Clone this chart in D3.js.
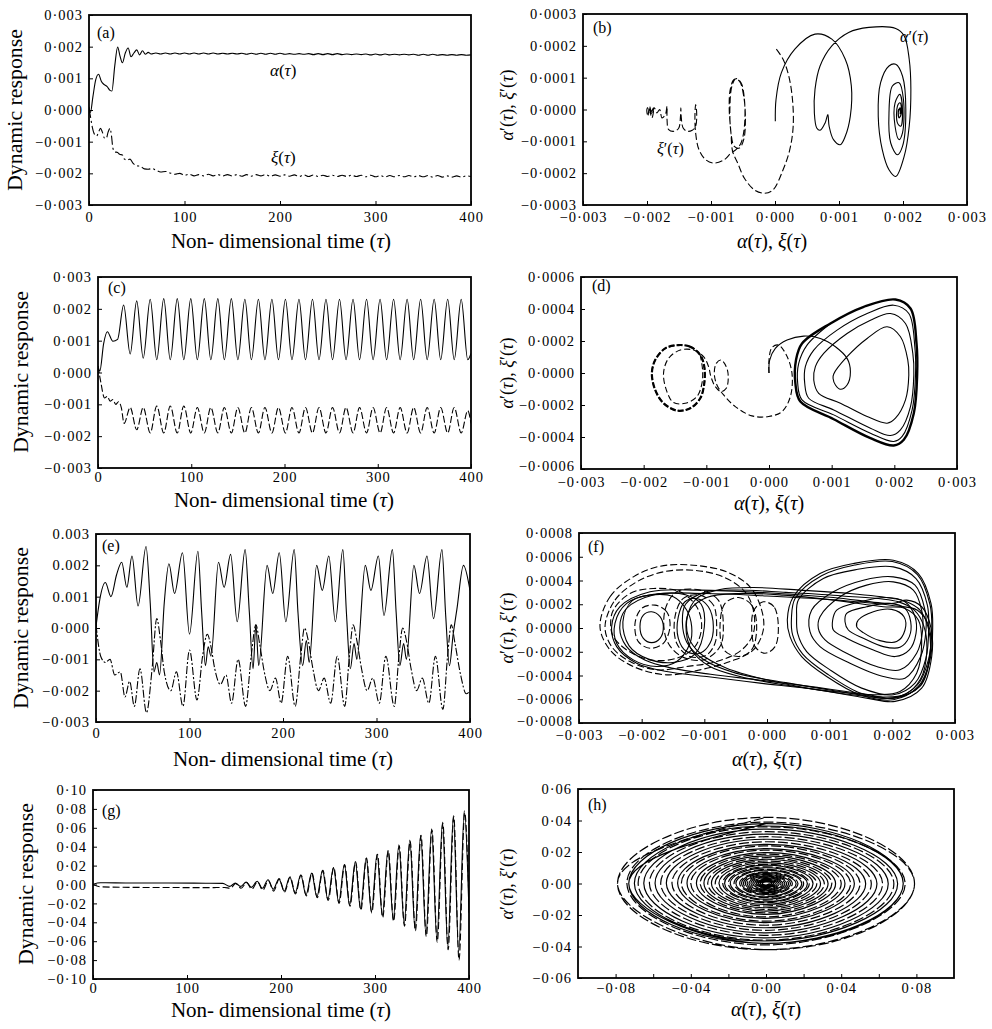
<!DOCTYPE html>
<html><head><meta charset="utf-8">
<script src="https://cdn.jsdelivr.net/npm/d3@7"></script>
<style>
body{margin:0;background:#fff;}
svg{display:block;}
text{font-family:"Liberation Serif","Times New Roman",serif;fill:#000;}
</style></head><body>
<svg id="fig" width="992" height="1029"></svg>
<script>
// ---------------- tick values and labels ----------------
const timeTicks = [0, 100, 200, 300, 400];
const timeTickLabels = ['0', '100', '200', '300', '400'];
const respTicks = [-0.003, -0.002, -0.001, 0, 0.001, 0.002, 0.003];
const respTickLabels = ['−0·003', '−0·002', '−0·001', '0·000', '0·001', '0·002', '0·003'];
const respTickLabelsE = ['−0·003', '−0·002', '−0·001', '0·000', '0.001', '0.002', '0.003'];
const gTicks = [-0.10, -0.08, -0.06, -0.04, -0.02, 0, 0.02, 0.04, 0.06, 0.08, 0.10];
const gTickLabels = ['−0·10', '−0·08', '−0·06', '−0·04', '−0·02', '0·00', '0·02', '0·04', '0·06', '0·08', '0·10'];
const bRateTicks = [-0.0003, -0.0002, -0.0001, 0, 0.0001, 0.0002, 0.0003];
const bRateTickLabels = ['−0·0003', '−0·0002', '−0·0001', '0·0000', '0·0001', '0·0002', '0·0003'];
const dRateTicks = [-0.0006, -0.0004, -0.0002, 0, 0.0002, 0.0004, 0.0006];
const dRateTickLabels = ['−0·0006', '−0·0004', '−0·0002', '0·0000', '0·0002', '0·0004', '0·0006'];
const fRateTicks = [-0.0008, -0.0006, -0.0004, -0.0002, 0, 0.0002, 0.0004, 0.0006, 0.0008];
const fRateTickLabels = ['−0·0008', '−0·0006', '−0·0004', '−0·0002', '0·0000', '0·0002', '0·0004', '0·0006', '0·0008'];
const hDispTicks = [-0.08, -0.06, -0.04, -0.02, 0, 0.02, 0.04, 0.06, 0.08];
const hDispTickLabels = ['−0·08', '', '−0·04', '', '0·00', '', '0·04', '', '0·08'];
const hRateTicks = [-0.06, -0.04, -0.02, 0, 0.02, 0.04, 0.06];
const hRateTickLabels = ['−0·06', '−0·04', '−0·02', '0·00', '0·02', '0·04', '0·06'];

// ---------------- (a) time histories [tau, value] ----------------
const aAlpha = [[0,0.0001],[1.5,-0.00008],[4,0.0004],[7,0.00095],[10,0.00113],[13,0.0009],[16,0.0008],[19,0.00074],[22,0.00062],[24,0.0006],[27,0.0014],[30,0.00199],[32.5,0.0017],[35,0.00149],[38,0.0018],[41,0.00196],[44,0.00168],[47,0.0018],[50,0.0019],[53,0.00174],[56,0.00187],[59,0.00176],[62,0.00182],
[65,0.00177],[70,0.0018],[75,0.00177],[80,0.0018],[85,0.00177],[90,0.0018],[95,0.00177],[100,0.0018],[105,0.00177],[110,0.0018],[115,0.00177],[120,0.0018],[125,0.00177],[130,0.0018],[135,0.00177],[140,0.00179],[145,0.00177],[150,0.00179],[155,0.00177],[160,0.00179],[165,0.00176],[170,0.00179],[175,0.00176],[180,0.00179],[185,0.00176],[190,0.00179],[195,0.00176],[200,0.00179],[205,0.00176],[210,0.00178],[215,0.00176],[220,0.00178],[225,0.00176],[230,0.00178],[235,0.00175],[240,0.00178],[245,0.00175],[250,0.00178],[255,0.00175],[260,0.00178],[265,0.00175],[270,0.00177],[275,0.00175],[280,0.00177],[285,0.00175],[290,0.00177],[295,0.00174],[300,0.00177],[305,0.00174],[310,0.00177],[315,0.00174],[320,0.00176],[325,0.00174],[330,0.00176],[335,0.00174],[340,0.00176],[345,0.00173],[350,0.00176],[355,0.00173],[360,0.00176],[365,0.00173],[370,0.00175],[375,0.00173],[380,0.00175],[385,0.00173],[390,0.00175],[395,0.00173],[400,0.00174]];
const aXi = [[0,0.00003],[1.5,-0.0002],[3.5,-0.00055],[6,-0.00078],[8,-0.00082],[10,-0.0007],[12,-0.00058],[14,-0.0007],[16,-0.00088],[18,-0.0009],[20,-0.0007],[22,-0.00058],[23.5,-0.0008],[25,-0.0012],[27,-0.00132],[30,-0.00134],[32,-0.0014],[35,-0.00142],[37,-0.00155],[40,-0.00158],[43,-0.00155],[46,-0.00168],[50,-0.00176],[54,-0.00178],[58,-0.00186],[62,-0.00187],[66,-0.00185],[70,-0.0019],[75,-0.00196],[80,-0.00194],[85,-0.00199],[90,-0.00203],[95,-0.002],[100,-0.00206],
[105,-0.00203],[110,-0.00208],[115,-0.00204],[120,-0.00208],[125,-0.00203],[130,-0.00208],[135,-0.00204],[140,-0.00208],[145,-0.00204],[150,-0.00208],[155,-0.00204],[160,-0.00209],[165,-0.00204],[170,-0.00209],[175,-0.00204],[180,-0.00208],[185,-0.00204],[190,-0.00209],[195,-0.00205],[200,-0.00209],[205,-0.00205],[210,-0.00209],[215,-0.00205],[220,-0.0021],[225,-0.00205],[230,-0.0021],[235,-0.00205],[240,-0.0021],[245,-0.00206],[250,-0.0021],[255,-0.00206],[260,-0.0021],[265,-0.00206],[270,-0.0021],[275,-0.00206],[280,-0.0021],[285,-0.00206],[290,-0.00211],[295,-0.00206],[300,-0.00211],[305,-0.00207],[310,-0.00211],[315,-0.00207],[320,-0.00211],[325,-0.00207],[330,-0.00211],[335,-0.00207],[340,-0.00211],[345,-0.00207],[350,-0.00211],[355,-0.00207],[360,-0.00212],[365,-0.00207],[370,-0.00212],[375,-0.00208],[380,-0.00212],[385,-0.00208],[390,-0.00212],[395,-0.00208],[400,-0.0021]];

// ---------------- (b) phase trajectories [x in 1e-3, rate in 1e-4] ----------------
const bAlpha = [[0.005,-0.368],[0.016,0.316],[0.1,1.158],[0.31,1.895],[0.625,2.368],[0.888,2.21],[1.098,1.579],[1.193,0.737],[1.177,-0.21],[1.098,-0.842],[1.019,-1.105],[0.914,-0.947],[0.846,-0.526],[0.825,-0.158],[0.783,-0.421],[0.704,-0.653],[0.652,-0.579],[0.615,-0.105],[0.625,0.632],[0.704,1.368],[0.888,2.0],[1.151,2.421],[1.466,2.579],[1.886,2.547],[2.018,2.316],[2.097,1.579],[2.123,0.632],[2.097,-0.526],[2.018,-1.474],[1.886,-2.105],[1.781,-1.895],[1.676,-1.263],[1.613,-0.21],[1.65,0.842],[1.781,1.368],[1.886,1.421],[1.992,1.053],[2.044,0],[1.992,-1.158],[1.913,-1.421],[1.808,-1.053],[1.781,-0.105],[1.834,0.737],[1.939,0.842],[2.007,0.316],[1.992,-0.737],[1.939,-0.947],[1.876,-0.526],[1.876,0.21],[1.95,0.474],[1.992,0],[1.965,-0.526],[1.913,-0.421],[1.913,0.105],[1.955,0.21],[1.976,-0.105],[1.939,-0.263],[1.929,-0.053],[1.955,0.05],[1.965,-0.2],[1.935,-0.25],[1.93,0.0],[1.95,0.0],[1.955,-0.15]];
const bXi = [[0.021,1.895],[0.126,1.579],[0.215,1.053],[0.273,0.316],[0.284,-0.526],[0.231,-1.263],[0.126,-1.895],[-0.032,-2.526],[-0.163,-2.632],[-0.321,-2.526],[-0.478,-2.158],[-0.583,-1.684],[-0.662,-1.316],[-0.688,-0.737],[-0.715,0],[-0.699,0.632],[-0.636,0.947],[-0.557,0.895],[-0.489,0.421],[-0.462,-0.316],[-0.489,-0.947],[-0.557,-1.211],[-0.636,-1.158],[-0.688,-0.737],[-0.704,0.105],[-0.673,0.737],[-0.61,0.968],[-0.531,0.842],[-0.478,0.316],[-0.478,-0.526],[-0.531,-1.053],[-0.61,-1.263],[-0.688,-1.368],[-0.793,-1.579],[-0.951,-1.684],[-1.083,-1.579],[-1.188,-1.263],[-1.24,-0.737],[-1.251,-0.21],[-1.24,0.158],[-1.224,-0.105],[-1.24,-0.526],[-1.293,-0.653],[-1.372,-0.684],[-1.435,-0.579],[-1.466,-0.21],[-1.471,0.053],[-1.477,-0.21],[-1.503,-0.579],[-1.571,-0.684],[-1.661,-0.632],[-1.687,-0.316],[-1.687,0.105],[-1.713,-0.158],[-1.766,-0.263],[-1.802,0],[-1.844,-0.105],[-1.886,0.053],[-1.923,-0.158],[-1.96,0.105],[-1.986,-0.21],[-2.002,0],[-1.976,0.084],[-1.923,-0.263],[-1.897,0.053],[-1.95,-0.105],[-1.981,-0.053]];

// ---------------- (c) time histories ----------------
const cAlpha = [[0,0.0002],[2,0.00005],[6,0.0009],[10,0.00128],[16,0.00098],[21,0.00104],[27.5,0.00212],[34.5,0.00058],[41.5,0.00225],[48.5,0.00045],[56,0.0023],[63,0.0004],[70.5,0.00232],[77.5,0.0004],[85,0.00232],[92,0.0004],[99.5,0.00232],[106.5,0.0004],[114,0.00232],[121,0.0004],[128.5,0.00232],[135.5,0.0004],[143,0.00232],[150,0.0004],[157.5,0.0023],[164.5,0.0004],[172,0.0023],[179,0.0004],[186.5,0.0023],[193.5,0.0004],[201,0.0023],[208,0.0004],[215.5,0.0023],[222.5,0.0004],[230,0.0023],[237,0.0004],[244.5,0.0023],[251.5,0.0004],[259,0.0023],[266,0.0004],[273.5,0.0023],[280.5,0.0004],[288,0.0023],[295,0.0004],[302.5,0.0023],[309.5,0.0004],[317,0.0023],[324,0.0004],[331.5,0.0023],[338.5,0.0004],[346,0.0023],[353,0.0004],[360.5,0.0023],[367.5,0.0004],[375,0.0023],[382,0.0004],[389.5,0.0023],[396.5,0.0004],[400,0.0006]];
const cXi = [[0,0.0002],[3,-0.0003],[7,-0.0008],[10,-0.00075],[13,-0.0009],[16,-0.00085],[19,-0.001],[22,-0.00092],[25,-0.0011],[28,-0.0016],[34.5,-0.0011],[41.5,-0.0018],[48.5,-0.0011],[56,-0.0019],[63,-0.00105],[70.5,-0.0019],[77.5,-0.00105],[85,-0.0019],[92,-0.00105],[99.5,-0.0019],[106.5,-0.0011],[114,-0.0019],[121,-0.0011],[128.5,-0.0019],[135.5,-0.0011],[143,-0.0019],[150,-0.0011],[157.5,-0.0019],[164.5,-0.0011],[172,-0.0019],[179,-0.0011],[186.5,-0.0019],[193.5,-0.0011],[201,-0.0019],[208,-0.0011],[215.5,-0.0019],[222.5,-0.0011],[230,-0.0019],[237,-0.0011],[244.5,-0.0019],[251.5,-0.0011],[259,-0.0019],[266,-0.0011],[273.5,-0.0019],[280.5,-0.0011],[288,-0.0019],[295,-0.0011],[302.5,-0.0019],[309.5,-0.0011],[317,-0.0019],[324,-0.0011],[331.5,-0.0019],[338.5,-0.0011],[346,-0.0019],[353,-0.0011],[360.5,-0.0019],[367.5,-0.0011],[375,-0.0019],[382,-0.0011],[389.5,-0.0019],[396.5,-0.0012],[400,-0.0016]];

// ---------------- (d) phase trajectories [x in 1e-3, rate in 1e-4] ----------------
const dAlphaStart = [[0,0],[0.011,0.81],[0.101,1.537],[0.288,2.056],[0.554,2.305],[0.82,2.16],[1.06,1.641],[1.246,0.914],[1.299,0.083],[1.246,-0.748],[1.14,-1.018],[1.06,-0.748],[1.022,-0.332],[1.033,-0.062],
[1.246,1.018],[1.566,2.16],[1.885,2.887],[2.098,2.264],[2.215,0.81],[2.231,-0.125],[2.178,-1.682],[2.018,-2.825],[1.885,-3.136],[1.566,-2.721],[1.14,-1.89],[0.793,-1.267],[0.714,-0.436],[0.74,0.395],[0.873,1.225],
[1.246,2.472],[1.619,3.302],[1.938,3.718],[2.178,3.095],[2.295,1.225],[2.311,-0.125],[2.258,-2.098],[2.098,-3.552],[1.938,-3.905],[1.619,-3.448],[1.033,-2.305],[0.634,-1.579],[0.57,-0.644],[0.58,0.395],[0.714,1.433],
[1.086,2.679],[1.566,3.718],[1.991,4.237],[2.231,3.718],[2.327,1.641],[2.338,-0.125],[2.284,-2.305],[2.125,-3.967],[1.991,-4.279],[1.619,-3.759],[1.033,-2.617],[0.527,-1.682],[0.458,-0.644],[0.474,0.602],[0.607,1.745],[0.98,3.095]];
const dAlphaCycle = [[0.98,3.095],[1.512,4.133],[2.018,4.59],[2.258,4.03],[2.354,1.849],[2.364,-0.125],[2.311,-2.513],[2.151,-4.175],[1.991,-4.528],[1.619,-4.071],[1.033,-2.887],[0.5,-1.786],[0.421,-0.644],[0.431,0.81],[0.527,1.849]];
const dXiStart = [[0,0],[0,0.81],[0.048,1.599],[0.154,1.745],[0.277,1.122],[0.367,-0.021],[0.341,-1.475],[0.208,-2.409],[-0.005,-2.721],[-0.272,-2.679],[-0.538,-2.098],[-0.724,-1.371],[-0.831,-0.748],[-0.873,-0.021],[-0.841,0.602],[-0.767,0.81],[-0.682,0.395],[-0.65,-0.228],[-0.682,-0.955],[-0.767,-1.163],[-0.857,-0.852],[-0.927,-0.228],[-0.964,0.395],
[-1.044,1.018],[-1.203,1.433],[-1.416,1.433],[-1.603,0.914],[-1.683,-0.021],[-1.629,-1.163],[-1.523,-1.849],[-1.337,-1.89],[-1.15,-1.475],[-1.07,-0.644],[-1.06,0.187],[-1.097,1.122]];
const dXiCycle = [[-1.097,1.122],[-1.257,1.641],[-1.443,1.745],[-1.656,1.537],[-1.816,0.81],[-1.869,-0.021],[-1.816,-1.059],[-1.683,-1.89],[-1.47,-2.347],[-1.257,-2.202],[-1.097,-1.579],[-1.033,-0.644],[-1.033,0.395]];

// ---------------- (e) time histories ----------------
const eAlpha = [[0,0.00005],[4,0.0009],[10,0.00145],[16,0.001],[22,0.0017],[27.5,0.0021],[33,0.0013],[38.5,0.0023],[45,0.0007],[53.5,0.0026],[58,0.0008],[62,-0.0014],[65,-0.0011],[68,-0.0015],[73,0.0008],[78,0.00205],[84,0.0011],[92.5,0.0024],[100,-0.0002],[109,0.00245],[113,0.0005],[117,-0.0012],[120,-0.0006],[123,-0.0009],[131,0.0021],[137,0.0013],[144,0.00235],[151,0.0002],[159.5,0.0025],[164,0.0005],[168,-0.0013],[171,0.0001],[174,-0.0012],[183,0.002],[189,0.0011],[196,0.0024],[203,0.0002],[212,0.0025],[216,0.0005],[221,-0.0012],[225,-0.0004],[228,-0.0011],[236,0.002],[242,0.0012],[249,0.0023],[256,0.0002],[264,0.0025],[268,0.0004],[272,-0.0013],[276,-0.0005],[279,-0.001],[288,0.002],[294,0.0012],[302,0.0023],[308,0.0004],[317,0.0025],[321,0.0005],[325,-0.0012],[329,-0.0005],[332,-0.001],[340,0.002],[346,0.0011],[354,0.0023],[361,0.0003],[370,0.0025],[374,0.0004],[378,-0.0012],[382,-0.0002],[386,0.0006],[393,0.002],[400,0.0012]];
const eXi = [[0,0.0001],[5,-0.0009],[10,-0.0011],[15,-0.001],[20,-0.0015],[26,-0.0014],[31,-0.0022],[36,-0.0017],[41,-0.0025],[47,-0.0013],[54,-0.0027],[60,-0.0013],[65,0.0003],[69,-0.0004],[73,-0.0014],[80,-0.002],[86,-0.0014],[93,-0.0025],[100,-0.0007],[108,-0.0023],[114,-0.0009],[119,-0.0002],[123,-0.0006],[127,-0.0013],[133,-0.0018],[139,-0.0015],[145,-0.0024],[152,-0.001],[160,-0.0025],[166,-0.0009],[171,0.0001],[175,-0.0005],[180,-0.0014],[186,-0.002],[192,-0.0016],[198,-0.0024],[205,-0.0009],[213,-0.0025],[219,-0.0009],[223,0.0],[227,-0.0004],[232,-0.0013],[238,-0.002],[244,-0.0016],[251,-0.0024],[258,-0.0009],[266,-0.0025],[271,-0.0009],[275,0.0001],[279,-0.0004],[284,-0.0013],[290,-0.002],[296,-0.0016],[303,-0.0024],[310,-0.0009],[319,-0.0025],[324,-0.0009],[328,0.0],[332,-0.0004],[337,-0.0013],[343,-0.002],[349,-0.0016],[356,-0.0024],[363,-0.0009],[371,-0.0026],[376,-0.0009],[380,0.0001],[384,-0.0005],[390,-0.0015],[396,-0.0021],[400,-0.002]];

// ---------------- (f) phase loops [x in 1e-3, rate in 1e-4] ----------------
const fAlphaLoops = [
 [[0.42,2.629],[0.846,4.587],[1.378,5.426],[2.016,5.706],[2.415,4.587],[2.617,2.07],[2.644,0],[2.601,-2.685],[2.415,-4.923],[2.016,-6.042],[1.484,-5.622],[0.952,-4.084],[0.553,-2.405],[0.367,-0.727],[0.324,0.671]],
 [[0.45,2.5],[0.87,4.4],[1.4,5.3],[2.0,5.6],[2.4,4.5],[2.6,2.0],[2.63,0],[2.58,-2.6],[2.4,-4.8],[2.0,-5.9],[1.5,-5.5],[0.97,-3.9],[0.57,-2.2],[0.41,-0.6],[0.39,0.8]],
 [[0.5,2.35],[0.899,4.168],[1.431,4.923],[2.016,5.146],[2.378,4.168],[2.559,1.93],[2.58,0],[2.537,-2.545],[2.362,-4.643],[2.016,-5.622],[1.511,-5.063],[1.005,-3.524],[0.633,-1.986],[0.489,-0.448],[0.473,0.951]],
 [[1.112,1.51],[1.484,2.21],[1.91,2.573],[2.202,2.21],[2.362,0.951],[2.378,-0.448],[2.271,-1.846],[2.043,-2.405],[1.697,-1.846],[1.271,-0.867],[1.059,-0.168],[1.048,0.671]],
 [[1.271,1.231],[1.59,1.79],[1.963,2.07],[2.202,1.65],[2.293,0.531],[2.271,-0.727],[2.122,-1.622],[1.856,-1.566],[1.537,-0.867],[1.298,-0.168],[1.245,0.531]],
 [[1.457,0.671],[1.697,1.371],[1.989,1.566],[2.186,0.951],[2.202,-0.168],[2.069,-1.147],[1.803,-1.063],[1.537,-0.392],[1.431,0.112]],
 [[0.846,0.951],[1.165,2.629],[1.59,3.608],[2.016,3.888],[2.335,3.189],[2.468,1.51],[2.484,-0.168],[2.388,-2.126],[2.122,-3.524],[1.75,-3.245],[1.271,-2.126],[0.926,-1.007],[0.819,-0.028]],
 [[0.713,1.51],[1.059,3.049],[1.537,4.028],[2.016,4.307],[2.362,3.608],[2.521,1.51],[2.537,-0.168],[2.452,-2.405],[2.202,-4.224],[1.856,-4.084],[1.324,-2.965],[0.846,-1.566],[0.686,-0.308]],
 [[2.016,2.489],[1.324,2.909],[0.527,3.189],[-0.218,3.412],[-0.75,3.245],[-1.122,2.489],[-1.271,0.951],[-1.255,-0.727],[-1.069,-2.126],[-0.644,-3.384],[-0.005,-4.363],[0.793,-5.202],[1.59,-5.762],[2.016,-5.902],[2.441,-4.923],[2.601,-2.405],[2.574,0],[2.441,1.51],[2.229,2.21]],
 [[1.856,1.79],[1.059,2.349],[0.261,2.769],[-0.431,2.909],[-0.963,2.573],[-1.229,1.51],[-1.293,0.112],[-1.202,-1.846],[-0.91,-3.245],[-0.431,-4.084],[0.261,-4.783],[1.059,-5.342],[1.75,-5.622],[2.122,-5.342],[2.388,-3.804],[2.468,-1.287],[2.415,0.671],[2.202,1.65]],
 [[2.1,2.2],[1.2,2.7],[0.3,3.0],[-0.5,3.2],[-1.0,3.0],[-1.3,2.0],[-1.35,0.5],[-1.28,-1.2],[-1.0,-2.7],[-0.5,-3.8],[0.3,-4.6],[1.1,-5.3],[1.8,-5.8],[2.2,-5.6],[2.45,-4.3],[2.55,-2.0],[2.5,0.2],[2.35,1.5]],
 [[2.016,2.07],[1.059,2.573],[-0.005,2.965],[-1.069,3.189],[-1.867,3.049],[-2.346,1.79],[-2.479,0.112],[-2.399,-1.566],[-2.08,-2.965],[-1.601,-3.664],[-0.963,-4.084],[-0.112,-4.643],[0.793,-5.202],[1.59,-5.902],[2.043,-6.181],[2.468,-5.063],[2.628,-2.405],[2.617,0],[2.468,1.79],[2.229,2.349]],
 [[2.0,1.9],[1.0,2.4],[0.0,2.7],[-1.0,2.9],[-1.8,2.8],[-2.25,1.6],[-2.35,0.0],[-2.25,-1.5],[-1.95,-2.7],[-1.5,-3.4],[-0.9,-3.9],[-0.1,-4.4],[0.8,-5.0],[1.6,-5.6],[2.05,-5.9],[2.45,-4.8],[2.6,-2.2],[2.58,0.2],[2.4,1.5]],
 [[-0.856,0.112],[-0.936,1.79],[-1.122,2.489],[-1.309,2.21],[-1.415,0.951],[-1.415,-0.867],[-1.282,-1.986],[-1.069,-2.126],[-0.91,-1.287]],
 [[-1.0,0.1],[-1.05,2.0],[-1.3,2.8],[-1.7,2.9],[-2.15,2.3],[-2.3,0.5],[-2.2,-1.5],[-1.9,-2.6],[-1.5,-2.9],[-1.15,-2.2]],
 [[-1.654,0.112],[-1.707,0.951],[-1.84,1.371],[-1.973,1.091],[-2.027,0.112],[-1.973,-0.867],[-1.84,-1.231],[-1.707,-0.867]],
 [[-1.282,1.51],[-1.495,2.629],[-1.867,2.769],[-2.239,2.07],[-2.426,0.392],[-2.399,-1.287],[-2.133,-2.685],[-1.761,-3.245],[-1.441,-2.825],[-1.229,-1.287],[-1.202,0.112]]
];
const fXiLoops = [
 [[-2.665,0.112],[-2.505,2.629],[-2.133,4.307],[-1.707,5.202],[-1.176,5.286],[-0.644,4.727],[-0.271,3.468],[-0.085,1.51],[-0.059,-0.168],[-0.218,-1.846],[-0.59,-2.825],[-1.069,-3.524],[-1.601,-3.944],[-2.133,-3.245],[-2.505,-1.846]],
 [[-2.585,0.112],[-2.426,2.349],[-2.08,3.888],[-1.654,4.727],[-1.176,4.867],[-0.697,4.307],[-0.351,3.049],[-0.218,1.51],[-0.218,-0.448],[-0.404,-1.846],[-0.803,-2.825],[-1.282,-3.245],[-1.761,-3.524],[-2.186,-2.825],[-2.479,-1.566]],
 [[-2.452,1.51],[-2.186,2.909],[-1.814,3.328],[-1.388,3.049],[-1.122,1.79],[-1.043,0.112],[-1.149,-1.566],[-1.441,-2.545],[-1.867,-2.685],[-2.239,-1.846],[-2.452,-0.727],[-2.495,0.252]],
 [[-1.548,0.112],[-1.601,1.371],[-1.787,1.93],[-2.0,1.65],[-2.106,0.392],[-2.053,-1.147],[-1.867,-1.706],[-1.654,-1.287]],
 [[-0.803,0.112],[-0.856,1.93],[-1.069,2.769],[-1.335,2.489],[-1.468,0.951],[-1.441,-1.287],[-1.229,-2.405],[-0.963,-2.265],[-0.83,-1.287]],
 [[-0.165,0.112],[-0.245,1.93],[-0.457,2.573],[-0.67,2.07],[-0.75,0.112],[-0.686,-1.846],[-0.457,-2.405],[-0.245,-1.846]],
 [[0.181,0.112],[0.112,1.79],[-0.059,2.21],[-0.207,1.51],[-0.245,0.112],[-0.191,-1.566],[-0.032,-2.126],[0.128,-1.566]],
 [[-0.697,0.112],[-0.777,2.349],[-1.069,3.189],[-1.441,3.049],[-1.627,1.51],[-1.601,-1.007],[-1.362,-2.405],[-1.016,-2.685],[-0.75,-1.566]]
];

// ---------------- (g) time histories ----------------
const gAlpha = [[0,0.0003],[8,0.0018],[40,0.0016],[80,0.0016],[120,0.0014],[138,0.0012],[145.4,-0.002],[151.4,0.0015],[157,-0.002],[163,0.0025],[168.6,-0.003],[174.6,0.0035],[180.2,-0.004],[186.2,0.005],[191.8,-0.005],[197.8,0.006],[203.4,-0.007],[209.4,0.008],[215,-0.009],[221,0.010],[226.6,-0.011],[232.6,0.012],[238.2,-0.013],[244.2,0.015],[249.8,-0.016],[255.8,0.018],[261.4,-0.019],[267.4,0.021],[273,-0.022],[279,0.024],[284.6,-0.026],[290.6,0.028],[296.2,-0.029],[302.2,0.032],[307.8,-0.033],[313.8,0.036],[319.4,-0.037],[325.4,0.042],[331,-0.042],[337,0.047],[342.6,-0.047],[348.6,0.052],[354.2,-0.053],[360.2,0.059],[365.8,-0.058],[371.8,0.066],[377.4,-0.066],[383.4,0.073],[389,-0.071],[395,0.078],[400,-0.03]];
const gXi = [[0,0],[8,-0.0025],[40,-0.003],[80,-0.0032],[120,-0.0033],[140,-0.0032],[146,-0.004],[152,0.001],[157.5,-0.004],[163.5,0.002],[169,-0.005],[175,0.003],[180.6,-0.006],[186.6,0.004],[192.2,-0.007],[198.2,0.006],[203.8,-0.008],[209.8,0.008],[215.4,-0.010],[221.4,0.010],[227,-0.012],[233,0.012],[238.6,-0.014],[244.6,0.015],[250.2,-0.017],[256.2,0.018],[261.8,-0.020],[267.8,0.021],[273.4,-0.023],[279.4,0.024],[285,-0.027],[291,0.028],[296.6,-0.030],[302.6,0.032],[308.2,-0.035],[314.2,0.036],[319.8,-0.039],[325.8,0.041],[331.4,-0.044],[337.4,0.046],[343,-0.049],[349,0.052],[354.6,-0.055],[360.6,0.058],[366.2,-0.061],[372.2,0.065],[377.8,-0.069],[383.8,0.072],[389.4,-0.08],[395.4,0.076],[400,-0.02]];

// ---------------- (h) spiral extents per turn ----------------
const hAlphaDisp = [0.002,0.003,0.004,0.005,0.007,0.009,0.011,0.013,0.016,0.019,0.022,0.025,0.029,0.033,0.037,0.042,0.047,0.053,0.059,0.065,0.070,0.073];
const hAlphaRate = [0.001,0.0015,0.002,0.0027,0.0037,0.0047,0.0058,0.0069,0.0085,0.010,0.0117,0.0133,0.0154,0.0175,0.0196,0.0222,0.0249,0.0281,0.0313,0.0345,0.0365,0.038];
const hXiDisp = [0.003,0.004,0.005,0.006,0.008,0.010,0.012,0.014,0.017,0.020,0.023,0.027,0.031,0.035,0.040,0.045,0.050,0.056,0.062,0.068,0.074,0.079];
const hXiRate = [0.0015,0.002,0.0026,0.0032,0.0042,0.0053,0.0064,0.0074,0.009,0.0106,0.0122,0.0143,0.0164,0.0186,0.0212,0.0239,0.0265,0.0297,0.0329,0.036,0.039,0.042];

// ---------------- drawing ----------------
const svg = d3.select('#fig');
const U3 = 1e-3, U4 = 1e-4;
let clipId = 0;

function panel(box, xDom, yDom, xT, xL, yT, yL, xPad, lowLabelDy) {
  const x = d3.scaleLinear().domain(xDom).range([box.left, box.right]);
  const y = d3.scaleLinear().domain(yDom).range([box.bottom, box.top]);
  const g = svg.append('g');
  const ax = g.append('g').attr('transform', `translate(0,${box.bottom})`)
    .call(d3.axisBottom(x).tickValues(xT).tickFormat((d, i) => xL[i]).tickSizeInner(-4).tickSizeOuter(0).tickPadding(xPad));
  const ay = g.append('g').attr('transform', `translate(${box.left},0)`)
    .call(d3.axisLeft(y).tickValues(yT).tickFormat((d, i) => yL[i]).tickSizeInner(-4).tickSizeOuter(0).tickPadding(6));
  [ax, ay].forEach(a => {
    a.select('.domain').remove();
    a.attr('font-family', null).attr('font-size', null);
    a.selectAll('text').attr('font-size', 14.5).attr('letter-spacing', 1).attr('fill', '#000');
    a.selectAll('line').attr('stroke', '#000').attr('stroke-width', 1);
  });
  // lift the lowest y label a little where it would collide with the first x label
  if (lowLabelDy) ay.selectAll('text').filter((d, i) => i === 0).attr('dy', lowLabelDy);
  const id = 'clip' + (clipId++);
  svg.append('clipPath').attr('id', id).append('rect')
    .attr('x', box.left).attr('y', box.top).attr('width', box.right - box.left).attr('height', box.bottom - box.top);
  const plot = g.append('g').attr('clip-path', `url(#${id})`);
  g.append('rect').attr('x', box.left).attr('y', box.top)
    .attr('width', box.right - box.left).attr('height', box.bottom - box.top)
    .attr('fill', 'none').attr('stroke', '#000').attr('stroke-width', 1.8);
  return {x, y, plot, g, box};
}

function tsLine(p, data, dash, width) {
  const line = d3.line().x(d => p.x(d[0])).y(d => p.y(d[1])).curve(d3.curveMonotoneX);
  p.plot.append('path').attr('d', line(data)).attr('fill', 'none').attr('stroke', '#000')
    .attr('stroke-width', width || 1.1).attr('stroke-dasharray', dash || null);
}
function phaseLine(p, data, dash, width, closed, ux, uy) {
  const line = d3.line().x(d => p.x(d[0] * ux)).y(d => p.y(d[1] * uy))
    .curve(closed ? d3.curveCatmullRomClosed.alpha(0.5) : d3.curveCatmullRom.alpha(0.5));
  p.plot.append('path').attr('d', line(data)).attr('fill', 'none').attr('stroke', '#000')
    .attr('stroke-width', width || 1.1).attr('stroke-dasharray', dash || null);
}
// spiral through the extreme points of each turn; the outermost turn is traced twice
function spiral(p, disp, rate, dash, width) {
  const pts = [];
  const turns = disp.map((a, i) => [a, rate[i]]);
  turns.push(turns[turns.length - 1]);
  turns.forEach(([a, b]) => pts.push([a, 0], [0, -b], [-a, 0], [0, b]));
  const line = d3.line().x(d => p.x(d[0])).y(d => p.y(d[1])).curve(d3.curveNatural);
  p.plot.append('path').attr('d', line(pts)).attr('fill', 'none').attr('stroke', '#000')
    .attr('stroke-width', width || 1.1).attr('stroke-dasharray', dash || null);
}

function label(txt, x, y, size) {
  svg.append('text').attr('x', x).attr('y', y).attr('font-size', size || 16).text(txt);
}
function greek(parent, parts) {
  parts.forEach(([t, it, extra]) => {
    const s = parent.append('tspan').text(t);
    if (it) s.attr('font-style', 'italic');
    if (extra) s.attr('dx', extra);
  });
}
function timeTitle(cx, baseline) {
  const t = svg.append('text').attr('x', cx).attr('y', baseline).attr('text-anchor', 'middle').attr('font-size', 21);
  greek(t, [['Non-'], ['dimensional time (', false, 5], ['τ', true], [')']]);
}
function respTitle(cx, cy) {
  svg.append('text').attr('transform', `translate(${cx},${cy}) rotate(-90)`).attr('text-anchor', 'middle')
    .attr('dy', '0.35em').attr('font-size', 20).attr('textLength', 162).attr('lengthAdjust', 'spacingAndGlyphs')
    .text('Dynamic response');
}
function dispTitle(cx, baseline) {
  const t = svg.append('text').attr('x', cx).attr('y', baseline).attr('text-anchor', 'middle').attr('font-size', 20);
  greek(t, [['α', true], ['('], ['τ', true], ['), '], ['ξ', true], ['('], ['τ', true], [')']]);
}
function rateTitle(cx, cy) {
  const t = svg.append('text').attr('transform', `translate(${cx},${cy}) rotate(-90)`).attr('text-anchor', 'middle')
    .attr('dy', '0.35em').attr('font-size', 18);
  greek(t, [['α', true], ['′('], ['τ', true], ['), '], ['ξ', true], ['′('], ['τ', true], [')']]);
}

// panel boxes
const boxA = {left: 89, right: 471, top: 15, bottom: 205};
const boxB = {left: 583, right: 967, top: 14, bottom: 205};
const boxC = {left: 98, right: 471, top: 277, bottom: 468};
const boxD = {left: 581, right: 957, top: 277, bottom: 469};
const boxE = {left: 96, right: 470, top: 534, bottom: 722};
const boxF = {left: 579, right: 955, top: 533, bottom: 723};
const boxG = {left: 93, right: 469, top: 790, bottom: 979};
const boxH = {left: 578, right: 954, top: 789, bottom: 978};

// (a)
const pa = panel(boxA, [0, 400], [-0.003, 0.003], timeTicks, timeTickLabels, respTicks, respTickLabels, 7);
tsLine(pa, aAlpha);
tsLine(pa, aXi, '9,3,2,3');
label('(a)', 97, 38);
{ const t = svg.append('text').attr('x', 270).attr('y', 76).attr('font-size', 17); greek(t, [['α', true], ['('], ['τ', true], [')']]); }
{ const t = svg.append('text').attr('x', 271).attr('y', 163).attr('font-size', 17); greek(t, [['ξ', true], ['('], ['τ', true], [')']]); }
respTitle(15, 110); timeTitle(281, 248);

// (b)
const pb = panel(boxB, [-0.003, 0.003], [-0.0003, 0.0003], respTicks, respTickLabels, bRateTicks, bRateTickLabels, 7);
phaseLine(pb, bAlpha, null, 1.1, false, U3, U4);
phaseLine(pb, bXi, '7,3', 1.1, false, U3, U4);
label('(b)', 593, 33);
{ const t = svg.append('text').attr('x', 900).attr('y', 42).attr('font-size', 16); greek(t, [['α', true], ['′('], ['τ', true], [')']]); }
{ const t = svg.append('text').attr('x', 657).attr('y', 154).attr('font-size', 16); greek(t, [['ξ', true], ['′('], ['τ', true], [')']]); }
rateTitle(507, 105); dispTitle(772, 248);

// (c)
const pc = panel(boxC, [0, 400], [-0.003, 0.003], timeTicks, timeTickLabels, respTicks, respTickLabels, 4);
tsLine(pc, cAlpha);
tsLine(pc, cXi, '7,2.5');
label('(c)', 108, 293);
respTitle(21, 372); timeTitle(284, 507);

// (d)
const pd = panel(boxD, [-0.003, 0.003], [-0.0006, 0.0006], respTicks, respTickLabels, dRateTicks, dRateTickLabels, 8, '0.1em');
phaseLine(pd, dAlphaStart, null, 1.1, false, U3, U4);
phaseLine(pd, dAlphaCycle, null, 2.4, true, U3, U4);
phaseLine(pd, dXiStart, '6,3', 1.1, false, U3, U4);
phaseLine(pd, dXiCycle, '6,2', 2.2, true, U3, U4);
phaseLine(pd, dXiCycle, '5,3', 1.4, true, U3, U4);
label('(d)', 592, 291);
rateTitle(507, 373); dispTitle(769, 510);

// (e)
const pe = panel(boxE, [0, 400], [-0.003, 0.003], timeTicks, timeTickLabels, respTicks, respTickLabelsE, 6);
tsLine(pe, eAlpha);
tsLine(pe, eXi, '8,2,2,2');
label('(e)', 102, 551);
respTitle(21, 628); timeTitle(283, 766);

// (f)
const pf = panel(boxF, [-0.003, 0.003], [-0.0008, 0.0008], respTicks, respTickLabels, fRateTicks, fRateTickLabels, 7, '0.2em');
fAlphaLoops.forEach(l => phaseLine(pf, l, null, 1.1, true, U3, U4));
fXiLoops.forEach(l => phaseLine(pf, l, '7,3', 1.1, true, U3, U4));
label('(f)', 588, 552);
rateTitle(507, 628); dispTitle(767, 766);

// (g)
const pg = panel(boxG, [0, 400], [-0.10, 0.10], timeTicks, timeTickLabels, gTicks, gTickLabels, 4);
tsLine(pg, gAlpha);
tsLine(pg, gXi, '7,3');
label('(g)', 102, 816);
respTitle(26, 884); timeTitle(281, 1017);

// (h)
const ph = panel(boxH, [-0.1, 0.1], [-0.06, 0.06], hDispTicks, hDispTickLabels, hRateTicks, hRateTickLabels, 5);
spiral(ph, hAlphaDisp, hAlphaRate, null, 1.2);
spiral(ph, hXiDisp, hXiRate, '10,3', 1.2);
label('(h)', 588, 810);
rateTitle(507, 884); dispTitle(766, 1016);
</script></body></html>
